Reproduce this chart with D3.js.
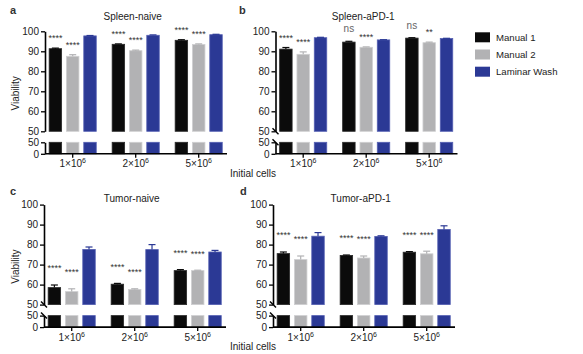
<!DOCTYPE html>
<html>
<head>
<meta charset="utf-8">
<script src="https://cdn.jsdelivr.net/npm/d3@7"></script>
<style>
  body { margin: 0; background: #fff; }
  svg { font-family: "Liberation Sans", Arial, sans-serif; }
</style>
</head>
<body>
<script>
// groups on the x axis (initial cells, x10^6) and the three wash methods
var groups = ["1", "2", "5"];
var series = ["Manual 1", "Manual 2", "Laminar Wash"];
var colors = ["#0b0b0b", "#b2b2b4", "#2b3995"];
var edges = ["#2a2a2a", "#cfcfd1", "#5560b2"];

var yTicksTop = [50, 60, 70, 80, 90, 100];
var yTicksBot = [0, 50];

// viability means, one row per method, one value per group
var spleenNaiveMean = [[91.3, 93.5, 95.5], [87.5, 90.3, 93.4], [97.7, 98.0, 98.3]];
var spleenNaiveSd = [[0.3, 0.2, 0.3], [0.8, 0.3, 0.3], [0.2, 0.2, 0.2]];
var spleenNaiveSig = [["****", "****", "****"], ["****", "****", "****"]];

var spleenPd1Mean = [[91.1, 94.6, 96.6], [88.5, 92.0, 94.3], [96.8, 95.7, 96.4]];
var spleenPd1Sd = [[0.8, 0.4, 0.2], [1.2, 0.2, 0.3], [0.2, 0.1, 0.1]];
var spleenPd1Sig = [["****", "ns", "ns"], ["****", "****", "**"]];

var tumorNaiveMean = [[58.5, 60.2, 67.0], [56.5, 57.6, 67.0], [77.6, 77.5, 76.3]];
var tumorNaiveSd = [[1.3, 0.4, 0.5], [1.4, 0.3, 0.2], [1.2, 2.5, 0.8]];
var tumorNaiveSig = [["****", "****", "****"], ["****", "****", "****"]];

var tumorPd1Mean = [[75.5, 74.6, 76.2], [72.5, 73.3, 75.4], [84.2, 84.1, 87.6]];
var tumorPd1Sd = [[0.8, 0.2, 0.3], [1.8, 1.0, 1.3], [1.8, 0.3, 1.8]];
var tumorPd1Sig = [["****", "****", "****"], ["****", "****", "****"]];

var panels = [
  {letter: "a", title: "Spleen-naive", mean: spleenNaiveMean, sd: spleenNaiveSd, sig: spleenNaiveSig,
   axisX: 45, top: 31.3, yLabel: true, slash: false, sigOff: 12, letterX: 10, letterY: 13.5, titleY: 19.5},
  {letter: "b", title: "Spleen-aPD-1", mean: spleenPd1Mean, sd: spleenPd1Sd, sig: spleenPd1Sig,
   axisX: 275.5, top: 31.3, yLabel: false, slash: true, sigOff: 12, letterX: 239, letterY: 13.5, titleY: 19.5},
  {letter: "c", title: "Tumor-naive", mean: tumorNaiveMean, sd: tumorNaiveSd, sig: tumorNaiveSig,
   axisX: 44, top: 204.6, yLabel: true, slash: true, sigOff: 19, letterX: 10, letterY: 195, titleY: 202},
  {letter: "d", title: "Tumor-aPD-1", mean: tumorPd1Mean, sd: tumorPd1Sd, sig: tumorPd1Sig,
   axisX: 273, top: 204.6, yLabel: false, slash: true, sigOff: 19, letterX: 240, letterY: 195, titleY: 202}
];

var svg = d3.select("body").append("svg")
  .attr("width", 583)
  .attr("height", 354);

panels.forEach(function(p) {
  var g = svg.append("g");

  var x0 = d3.scaleBand().domain(groups).range([p.axisX - 3.8, p.axisX - 3.8 + 189]);
  var x1 = d3.scaleBand().domain(series).range([-23.55, 23.55]).paddingInner(0.28);
  var yTop = d3.scaleLinear().domain([50, 100]).range([p.top + 100, p.top]);
  var yBot = d3.scaleLinear().domain([0, 50]).range([p.top + 122.5, p.top + 111]);
  var cx = function(gr) { return x0(gr) + x0.bandwidth() / 2; };

  // bars, error bars and significance marks
  series.forEach(function(s, i) {
    groups.forEach(function(gr, j) {
      var v = p.mean[i][j], e = p.sd[i][j];
      var bx = cx(gr) + x1(s);
      var bc = bx + x1.bandwidth() / 2;
      g.append("rect")
        .attr("x", bx).attr("y", yTop(v))
        .attr("width", x1.bandwidth()).attr("height", yTop(50) - yTop(v))
        .attr("fill", colors[i]).attr("stroke", edges[i]).attr("stroke-width", 0.8);
      g.append("rect")
        .attr("x", bx).attr("y", yBot(50))
        .attr("width", x1.bandwidth()).attr("height", yBot(0) - yBot(50))
        .attr("fill", colors[i]).attr("stroke", edges[i]).attr("stroke-width", 0.8);
      g.append("line")
        .attr("x1", bc).attr("x2", bc).attr("y1", yTop(v)).attr("y2", yTop(v + e))
        .attr("stroke", colors[i]).attr("stroke-width", 1.2);
      g.append("line")
        .attr("x1", bc - 3.5).attr("x2", bc + 3.5).attr("y1", yTop(v + e)).attr("y2", yTop(v + e))
        .attr("stroke", colors[i]).attr("stroke-width", 1.2);
      if (i < 2) {
        var lab = p.sig[i][j];
        var cy = yTop(v + e) - p.sigOff;
        g.append("text")
          .attr("x", bc).attr("y", cy + (lab === "ns" ? 2.8 : 5.3))
          .attr("text-anchor", "middle")
          .attr("font-size", lab === "ns" ? 10 : 9)
          .attr("fill", lab === "ns" ? "#666" : "#333")
          .text(lab);
      }
    });
  });

  // y axes, top and bottom segments
  var ya = g.append("g").attr("transform", "translate(" + p.axisX + ",0)")
    .call(d3.axisLeft(yTop).tickValues(yTicksTop).tickSize(4).tickSizeOuter(0).tickPadding(2));
  var yb = g.append("g").attr("transform", "translate(" + p.axisX + ",0)")
    .call(d3.axisLeft(yBot).tickValues(yTicksBot).tickSize(4).tickSizeOuter(0).tickPadding(2));

  // x axis
  var xa = g.append("g").attr("transform", "translate(0," + yBot(0) + ")")
    .call(d3.axisBottom(x0).tickSize(4).tickSizeOuter(0).tickPadding(2.4));
  xa.select(".domain").remove();
  g.append("line")
    .attr("x1", p.axisX).attr("x2", p.axisX + 182)
    .attr("y1", yBot(0)).attr("y2", yBot(0))
    .attr("stroke", "#000").attr("stroke-width", 1.6);
  xa.selectAll(".tick text").each(function(d) {
    var t = d3.select(this);
    t.text(null);
    t.append("tspan").text(d + "\u00d710");
    t.append("tspan").attr("dy", -4).attr("font-size", 7).text("6");
  });

  [ya, yb, xa].forEach(function(a) {
    a.selectAll(".domain").attr("stroke-width", 1.6);
    a.selectAll(".tick line").attr("stroke-width", 1.3);
    a.selectAll(".tick text").attr("font-size", 10).attr("fill", "#222")
      .style("font-family", "'Liberation Sans', Arial, sans-serif");
  });

  // axis break marks
  if (p.slash) {
    [yTop(50), yBot(50)].forEach(function(y) {
      g.append("line")
        .attr("x1", p.axisX - 3).attr("x2", p.axisX + 3)
        .attr("y1", y - 3).attr("y2", y + 3)
        .attr("stroke", "#000").attr("stroke-width", 1.4);
    });
  }

  g.append("text")
    .attr("x", cx(groups[1]) - 3).attr("y", p.titleY)
    .attr("text-anchor", "middle").attr("font-size", 10).attr("fill", "#222")
    .text(p.title);

  g.append("text")
    .attr("x", p.letterX).attr("y", p.letterY)
    .attr("font-size", 11).attr("font-weight", "bold").attr("fill", "#333")
    .text(p.letter);

  if (p.yLabel) {
    g.append("text")
      .attr("transform", "translate(19," + (p.top + 62) + ") rotate(-90)")
      .attr("text-anchor", "middle").attr("font-size", 10).attr("fill", "#222")
      .text("Viability");
  }
});

// shared x axis titles
[176.5, 349.5].forEach(function(y) {
  svg.append("text")
    .attr("x", 253).attr("y", y)
    .attr("text-anchor", "middle").attr("font-size", 10).attr("fill", "#222")
    .text("Initial cells");
});

// legend
var legend = svg.append("g").attr("transform", "translate(475,32.3)");
series.forEach(function(s, i) {
  legend.append("rect")
    .attr("x", 0).attr("y", i * 17.2)
    .attr("width", 15).attr("height", 10)
    .attr("fill", colors[i]);
  legend.append("text")
    .attr("x", 21).attr("y", i * 17.2 + 8.5)
    .attr("font-size", 9.6).attr("fill", "#222")
    .text(s);
});
</script>
</body>
</html>
